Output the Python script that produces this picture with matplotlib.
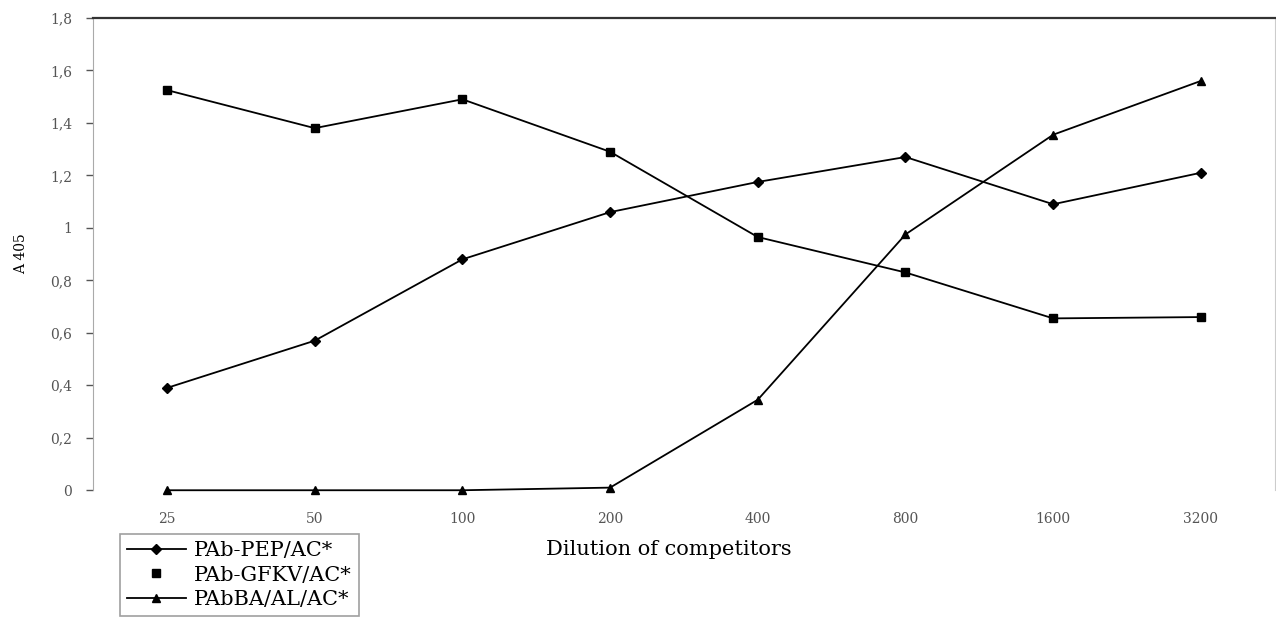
from matplotlib import pyplot as plt
from matplotlib.lines import Line2D

# dilution of competitors
dilutions = ["25", "50", "100", "200", "400", "800", "1600", "3200"]

# A 405 readings
pep = [0.39, 0.57, 0.88, 1.06, 1.175, 1.27, 1.09, 1.21]
gfkv = [1.525, 1.38, 1.49, 1.29, 0.965, 0.83, 0.655, 0.66]
ba_al = [0.0, 0.0, 0.0, 0.01, 0.345, 0.975, 1.355, 1.56]

names = ["PAb-PEP/AC*", "PAb-GFKV/AC*", "PAbBA/AL/AC*"]

y_ticks = [0, 0.2, 0.4, 0.6, 0.8, 1.0, 1.2, 1.4, 1.6, 1.8]
y_tick_labels = ["0", "0,2", "0,4", "0,6", "0,8", "1", "1,2", "1,4", "1,6", "1,8"]

plt.rcParams["font.family"] = ["DejaVu Serif", "Liberation Serif"]

fig = plt.figure(figsize=(12.76, 6.19), dpi=100)
ax = fig.add_axes([0.073, 0.208, 0.926, 0.763])

x = list(range(len(dilutions)))
ax.plot(x, pep, color="black", lw=1.3, marker="D", ms=5, clip_on=False)
ax.plot(x, gfkv, color="black", lw=1.3, marker="s", ms=6, clip_on=False)
ax.plot(x, ba_al, color="black", lw=1.3, marker="^", ms=6, clip_on=False)

ax.set_xlim(-0.5, 7.5)
ax.set_ylim(0, 1.8)
ax.set_xticks(x)
ax.set_xticklabels(dilutions, fontsize=10, color="#555555")
ax.set_yticks(y_ticks)
ax.set_yticklabels(y_tick_labels, fontsize=10, color="#555555")
ax.tick_params(axis="x", length=0, pad=16)
ax.tick_params(axis="y", length=5, width=1, color="#555555", pad=10)

ax.spines["bottom"].set_visible(False)
ax.spines["left"].set_color("#aaaaaa")
ax.spines["right"].set_color("#cccccc")
ax.spines["top"].set_color("#333333")
ax.spines["top"].set_linewidth(1.6)

ax.set_xlabel("Dilution of competitors", fontsize=15, labelpad=10)
ax.xaxis.set_label_coords(0.487, -0.105)
ax.set_ylabel("A 405", fontsize=10, labelpad=16)

handles = [
    Line2D([], [], color="black", lw=1.3, marker="D", ms=5),
    Line2D([], [], color="black", lw=0, marker="s", ms=6),
    Line2D([], [], color="black", lw=1.3, marker="^", ms=6),
]
leg = fig.legend(handles, names, loc="upper left", bbox_to_anchor=(0.094, 0.137),
                 fontsize=15, frameon=True, fancybox=False, handlelength=2.8,
                 handletextpad=0.4, borderaxespad=0, borderpad=0.35,
                 labelspacing=0.25)
leg.get_frame().set_edgecolor("#888888")
leg.get_frame().set_linewidth(1.2)

fig.savefig("out.png", dpi=100)
